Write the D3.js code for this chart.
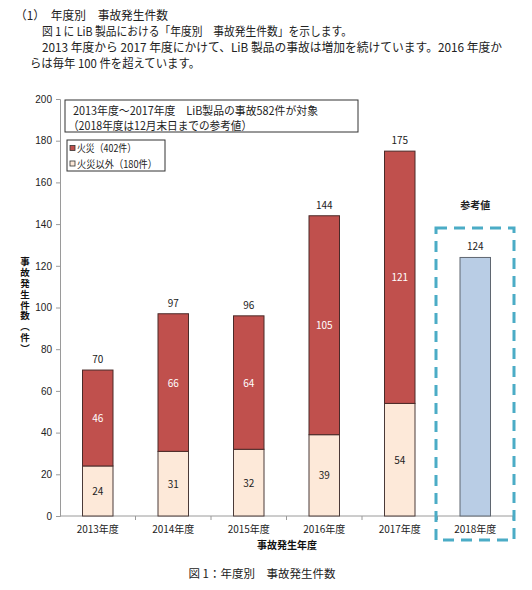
<!DOCTYPE html>
<html>
<head>
<meta charset="utf-8">
<script src="https://cdn.jsdelivr.net/npm/d3@7"></script>
<style>
  body { margin: 0; background: #fff; }
  text { font-family: "Noto Sans CJK JP", "Noto Sans", sans-serif; }
</style>
</head>
<body>
<div id="chart"></div>
<script>
// DATA
var years     = ['2013年度', '2014年度', '2015年度', '2016年度', '2017年度', '2018年度'];
var fire      = [46, 66, 64, 105, 121, null];
var nonFire   = [24, 31, 32, 39, 54, null];
var totals    = [70, 97, 96, 144, 175, 124];
var yTicks    = [0, 20, 40, 60, 80, 100, 120, 140, 160, 180, 200];
var introText = [
  '（1）　年度別　事故発生件数',
  '図 1 に LiB 製品における「年度別　事故発生件数」を示します。',
  '2013 年度から 2017 年度にかけて、LiB 製品の事故は増加を続けています。2016 年度か',
  'らは毎年 100 件を超えています。'
];
var noteText   = ['2013年度～2017年度　LiB製品の事故582件が対象', '（2018年度は12月末日までの参考値）'];
var legendText = ['火災（402件）', '火災以外（180件）'];
var yTitle     = '事故発生件数（件）';

var W = 532, H = 590;
var svg = d3.select('#chart').append('svg')
  .attr('width', W)
  .attr('height', H);

// intro paragraph at the top
var introPos = [
  { x: 15, y: 20, w: 153 },
  { x: 42, y: 36, w: 310 },
  { x: 42, y: 52, w: 460 },
  { x: 30, y: 68, w: 170 }
];
svg.selectAll('text.intro')
  .data(introText)
  .enter().append('text')
  .attr('class', 'intro')
  .attr('x', function(d, i) { return introPos[i].x; })
  .attr('y', function(d, i) { return introPos[i].y; })
  .attr('textLength', function(d, i) { return introPos[i].w; })
  .attr('lengthAdjust', 'spacingAndGlyphs')
  .attr('font-size', '12px')
  .attr('fill', '#222')
  .text(function(d) { return d; });

// scales
var y = d3.scaleLinear().domain([0, 200]).range([516, 99]);
var x = d3.scaleBand().domain(years).range([60, 513]).padding(0);
var barW = 30.5;
var axisColor = '#9a9a9a';

// y axis
var yAxis = d3.axisLeft(y).tickValues(yTicks).tickSize(4).tickPadding(4);
var yG = svg.append('g').attr('transform', 'translate(60,0)').call(yAxis);
yG.select('.domain').attr('stroke', axisColor);
yG.selectAll('.tick line').attr('stroke', axisColor);
yG.selectAll('.tick text')
  .attr('font-size', '10px')
  .attr('fill', '#222')
  .style('font-family', '"Liberation Sans Narrow", "Liberation Sans", sans-serif');

// x axis - ticks sit on the band boundaries
var xG = svg.append('g').attr('transform', 'translate(0,516)');
xG.append('line')
  .attr('x1', 60).attr('x2', 513)
  .attr('stroke', axisColor);
xG.selectAll('line.tk')
  .data(years)
  .enter().append('line')
  .attr('class', 'tk')
  .attr('x1', function(d) { return x(d) + x.bandwidth(); })
  .attr('x2', function(d) { return x(d) + x.bandwidth(); })
  .attr('y1', 0).attr('y2', 4)
  .attr('stroke', axisColor);
xG.selectAll('text')
  .data(years)
  .enter().append('text')
  .attr('x', function(d) { return x(d) + x.bandwidth() / 2; })
  .attr('y', 17)
  .attr('text-anchor', 'middle')
  .attr('font-size', '10px')
  .attr('fill', '#222')
  .text(function(d) { return d; });

// bars
function cx(i) { return x(years[i]) + x.bandwidth() / 2; }
var idx = d3.range(5);

svg.selectAll('rect.non')
  .data(idx)
  .enter().append('rect')
  .attr('x', function(i) { return cx(i) - barW / 2; })
  .attr('y', function(i) { return y(nonFire[i]); })
  .attr('width', barW)
  .attr('height', function(i) { return y(0) - y(nonFire[i]); })
  .attr('fill', '#FDE9D9')
  .attr('stroke', '#4a3a38')
  .attr('stroke-width', 1);

svg.selectAll('rect.fire')
  .data(idx)
  .enter().append('rect')
  .attr('x', function(i) { return cx(i) - barW / 2; })
  .attr('y', function(i) { return y(nonFire[i] + fire[i]); })
  .attr('width', barW)
  .attr('height', function(i) { return y(nonFire[i]) - y(nonFire[i] + fire[i]); })
  .attr('fill', '#C0504D')
  .attr('stroke', '#4a2a28')
  .attr('stroke-width', 1);

// 2018 reference bar
svg.append('rect')
  .attr('x', cx(5) - barW / 2)
  .attr('y', y(totals[5]))
  .attr('width', barW)
  .attr('height', y(0) - y(totals[5]))
  .attr('fill', '#B9CDE5')
  .attr('stroke', '#5f6670')
  .attr('stroke-width', 1);

// segment labels
svg.selectAll('text.nonlbl')
  .data(idx)
  .enter().append('text')
  .attr('x', function(i) { return cx(i); })
  .attr('y', function(i) { return y(nonFire[i] / 2) + 4; })
  .attr('text-anchor', 'middle')
  .attr('font-size', '10px')
  .attr('fill', '#222')
  .text(function(i) { return nonFire[i]; });

svg.selectAll('text.firelbl')
  .data(idx)
  .enter().append('text')
  .attr('x', function(i) { return cx(i); })
  .attr('y', function(i) { return y(nonFire[i] + fire[i] / 2) + 4; })
  .attr('text-anchor', 'middle')
  .attr('font-size', '10px')
  .attr('fill', '#fff')
  .text(function(i) { return fire[i]; });

// totals on top
svg.selectAll('text.total')
  .data(totals)
  .enter().append('text')
  .attr('x', function(d, i) { return cx(i); })
  .attr('y', function(d) { return y(d) - 7; })
  .attr('text-anchor', 'middle')
  .attr('font-size', '10px')
  .attr('fill', '#222')
  .text(function(d) { return d; });

// dashed box round the reference year
svg.append('rect')
  .attr('x', x(years[5]) - 1.5)
  .attr('y', 228)
  .attr('width', 78)
  .attr('height', 312)
  .attr('fill', 'none')
  .attr('stroke', '#4BACC6')
  .attr('stroke-width', 3)
  .attr('stroke-dasharray', '11,7');

svg.append('text')
  .attr('x', cx(5))
  .attr('y', 209)
  .attr('text-anchor', 'middle')
  .attr('font-size', '10px')
  .attr('font-weight', 'bold')
  .attr('fill', '#222')
  .text('参考値');

// note box
svg.append('rect')
  .attr('x', 65).attr('y', 100)
  .attr('width', 293).attr('height', 32)
  .attr('fill', '#fff')
  .attr('stroke', '#333');
svg.selectAll('text.note')
  .data(noteText)
  .enter().append('text')
  .attr('x', function(d, i) { return i === 0 ? 73 : 68; })
  .attr('y', function(d, i) { return 115 + i * 14.5; })
  .attr('textLength', function(d, i) { return i === 0 ? 245 : 184; })
  .attr('lengthAdjust', 'spacingAndGlyphs')
  .attr('font-size', '11.5px')
  .attr('fill', '#222')
  .text(function(d) { return d; });

// legend
svg.append('rect')
  .attr('x', 67).attr('y', 140)
  .attr('width', 98).attr('height', 31)
  .attr('fill', '#fff')
  .attr('stroke', '#333');
var legFill = ['#C0504D', '#FDE9D9'];
svg.selectAll('rect.legsw')
  .data(legendText)
  .enter().append('rect')
  .attr('x', 70)
  .attr('y', function(d, i) { return 145.5 + i * 15.5; })
  .attr('width', 5).attr('height', 5)
  .attr('fill', function(d, i) { return legFill[i]; })
  .attr('stroke', '#333')
  .attr('stroke-width', 0.8);
svg.selectAll('text.leg')
  .data(legendText)
  .enter().append('text')
  .attr('x', 77)
  .attr('y', function(d, i) { return 152 + i * 15.5; })
  .attr('textLength', function(d, i) { return i === 0 ? 59 : 80; })
  .attr('lengthAdjust', 'spacingAndGlyphs')
  .attr('font-size', '10.5px')
  .attr('fill', '#222')
  .text(function(d) { return d; });

// axis titles
svg.append('text')
  .attr('x', 287).attr('y', 549)
  .attr('text-anchor', 'middle')
  .attr('font-size', '10px')
  .attr('font-weight', 'bold')
  .attr('fill', '#111')
  .text('事故発生年度');

// vertical y title as one text in vertical writing mode
svg.append('text')
  .attr('x', 25).attr('y', 257)
  .attr('font-size', '9.5px')
  .attr('font-weight', 'bold')
  .attr('fill', '#111')
  .style('writing-mode', 'vertical-rl')
  .style('letter-spacing', '1.3px')
  .text(yTitle);

// caption
svg.append('text')
  .attr('x', 262).attr('y', 578)
  .attr('text-anchor', 'middle')
  .attr('font-size', '11.5px')
  .attr('fill', '#222')
  .text('図 1：年度別　事故発生件数');
</script>
</body>
</html>
